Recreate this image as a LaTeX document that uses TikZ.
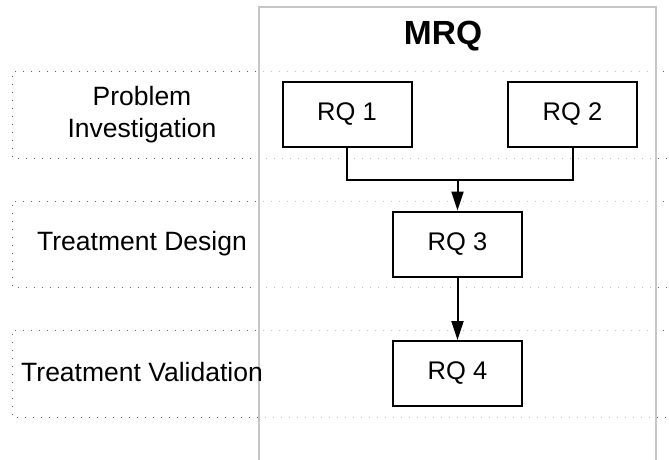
\documentclass[tikz,border=0pt]{standalone}
\usepackage{fontspec}
\setmainfont{Liberation Sans}
\usetikzlibrary{arrows.meta}
\begin{document}
\begin{tikzpicture}[x=1pt,y=-1pt,
  lane/.style={draw=black!60,line width=1pt,dash pattern=on 1pt off 7pt},
  lanelabel/.style={align=center,font=\fontsize{26.5}{32}\selectfont,inner sep=0pt},
  rqbox/.style={draw=black,line width=2pt,fill=white,minimum width=129pt,minimum height=65pt,inner sep=0pt,font=\fontsize{25.5}{30}\selectfont},
  link/.style={draw=black,line width=2pt},
  arrowlink/.style={link,-{Triangle[length=19pt,width=12pt]}}]
\useasboundingbox (0,0) rectangle (669,460);
\fill[white] (0,0) rectangle (669,460);
% swim lanes
\draw[lane] (680,72) -- (12,72) -- (12,158) -- (680,158);
\draw[lane] (680,201) -- (12,201) -- (12,287) -- (680,287);
\draw[lane] (680,330) -- (12,330) -- (12,417) -- (680,417);
% main research question container
\draw[draw=gray!45,line width=1.5pt,fill=white,fill opacity=0.6] (259,7) rectangle (656,462);
\node[font=\fontsize{33.5}{38}\selectfont\bfseries] (mrq) at (443,36) {MRQ};
% lane labels
\node[lanelabel] (pi) at (142,115) {Problem\\Investigation};
\node[lanelabel] (td) at (142,244) {Treatment Design};
\node[lanelabel] (tv) at (142,372) {Treatment Validation};
% research questions
\node[rqbox] (rq1) at (347,114.5) {RQ 1};
\node[rqbox] (rq2) at (572.5,114.5) {RQ 2};
\node[rqbox] (rq3) at (457.5,244) {RQ 3};
\node[rqbox] (rq4) at (457.5,373.5) {RQ 4};
% connectors
\coordinate (join) at (457.5,180);
\draw[link] (rq1.south) |- (join) -| (rq2.south);
\draw[arrowlink] (join) -- (rq3.north);
\draw[arrowlink] (rq3.south) -- (rq4.north);
\end{tikzpicture}
\end{document}
